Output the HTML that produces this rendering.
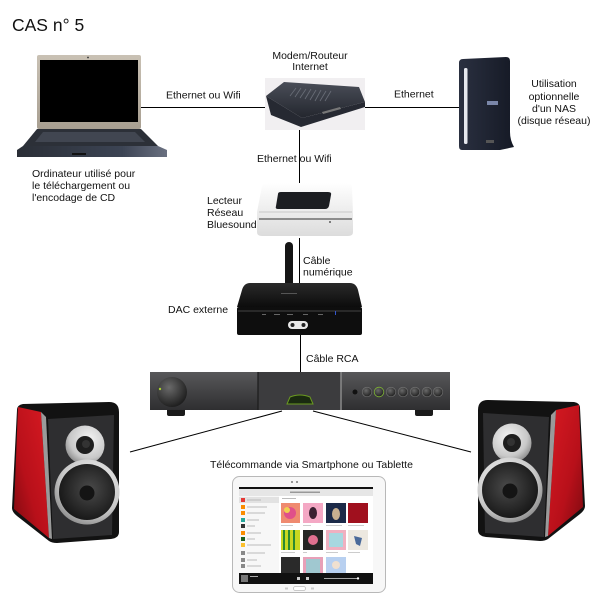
<!DOCTYPE html>
<html><head><meta charset="utf-8"><style>
html,body{margin:0;padding:0;background:#fff;}
svg{display:block;}
text{font-family:"Liberation Sans",Arial,sans-serif;fill:#111;}
.t{font-size:10.5px;}
</style></head><body>
<svg width="600" height="600" viewBox="0 0 600 600" xmlns="http://www.w3.org/2000/svg">
<defs>
<linearGradient id="lid" x1="0" y1="0" x2="0" y2="1"><stop offset="0" stop-color="#c9c1b4"/><stop offset="1" stop-color="#a89f91"/></linearGradient>
<linearGradient id="lapfront" x1="0" y1="0" x2="1" y2="0"><stop offset="0" stop-color="#2a2e36"/><stop offset="0.7" stop-color="#3c4454"/><stop offset="1" stop-color="#6a7080"/></linearGradient>
<linearGradient id="red" x1="0" y1="0" x2="1" y2="1"><stop offset="0" stop-color="#d81a22"/><stop offset="0.6" stop-color="#b8101a"/><stop offset="1" stop-color="#7a0a10"/></linearGradient>
<radialGradient id="silver" cx="0.4" cy="0.35" r="0.7"><stop offset="0" stop-color="#f4f4f4"/><stop offset="0.7" stop-color="#c8c8c8"/><stop offset="1" stop-color="#8a8a8a"/></radialGradient>
<radialGradient id="cone" cx="0.45" cy="0.45" r="0.6"><stop offset="0" stop-color="#4a4a4a"/><stop offset="1" stop-color="#151515"/></radialGradient>
<linearGradient id="amp" x1="0" y1="0" x2="0" y2="1"><stop offset="0" stop-color="#58585a"/><stop offset="1" stop-color="#2e2e30"/></linearGradient>
<radialGradient id="knob" cx="0.4" cy="0.35" r="0.7"><stop offset="0" stop-color="#6a6a6a"/><stop offset="1" stop-color="#1a1a1a"/></radialGradient>
<linearGradient id="nas" x1="0" y1="0" x2="1" y2="0"><stop offset="0" stop-color="#2a3040"/><stop offset="1" stop-color="#151925"/></linearGradient>
<linearGradient id="router" x1="0" y1="0" x2="0" y2="1"><stop offset="0" stop-color="#4a4e58"/><stop offset="1" stop-color="#23262e"/></linearGradient>
<linearGradient id="blu" x1="0" y1="0" x2="0" y2="1"><stop offset="0" stop-color="#ffffff"/><stop offset="1" stop-color="#dcdcdc"/></linearGradient>
<linearGradient id="dac" x1="0" y1="0" x2="0" y2="1"><stop offset="0" stop-color="#2a2a2a"/><stop offset="1" stop-color="#0c0c0c"/></linearGradient>
<g id="spk">
  <path d="M478,410 Q478,400 488,400 L574,402 Q580,403 580,408 L585,506 Q585,510 580,514 L548,539 Q545,541 540,541 L486,537 Q478,536 478,530 Z" fill="#121212"/>
  <path d="M483,413 L549,417 L544,537 L485,533 Z" fill="#2e2e30"/>
  <path d="M556,410 L579,405 L583,507 L548,536 Z" fill="url(#red)"/>
  <path d="M551,415 L556,410 L548,536 L545,537 Z" fill="#9a9a9a"/>
  <circle cx="512" cy="443" r="19.5" fill="url(#silver)"/>
  <circle cx="512" cy="443" r="9" fill="#1e1e1e"/>
  <circle cx="511" cy="442" r="4" fill="#333"/>
  <circle cx="510" cy="490" r="32.5" fill="url(#silver)"/>
  <circle cx="510" cy="490" r="28" fill="url(#cone)"/>
  <circle cx="510" cy="491" r="7.5" fill="#141414"/>
</g>
</defs>

<!-- Title -->
<text x="12" y="31" style="font-size:17.5px">CAS n° 5</text>

<!-- Connectors -->
<g stroke="#000" stroke-width="1" fill="none">
  <line x1="139" y1="107.5" x2="266" y2="107.5"/>
  <line x1="352" y1="107.5" x2="459" y2="107.5"/>
  <line x1="299.5" y1="125" x2="299.5" y2="184"/>
  <line x1="299.5" y1="238" x2="299.5" y2="283"/>
  <line x1="300.5" y1="335" x2="300.5" y2="372"/>
  <line x1="282" y1="411" x2="130" y2="452"/>
  <line x1="313" y1="411" x2="471" y2="452"/>
</g>

<!-- Laptop -->
<rect x="37" y="55" width="104" height="74" rx="2" fill="url(#lid)"/>
<rect x="40" y="60" width="98" height="62" fill="#000"/>
<circle cx="88" cy="57.5" r="0.9" fill="#333"/>
<path d="M37,129 L141,129 L158,146 L23,146 Z" fill="#2c3038"/>
<path d="M43,132 L135,132 L145,142 L35,142 Z" fill="#414651"/>
<path d="M23,146 L158,146 L167,150 L167,157 L17,157 L17,150 Z" fill="url(#lapfront)"/>
<rect x="72" y="153" width="14" height="2" fill="#111"/>

<!-- Router -->
<rect x="265" y="78" width="100" height="52" fill="#f1eff1"/>
<path d="M266,96 L284,82 L359,87 L365,102 L302,118 Z" fill="url(#router)"/>
<path d="M266,96 L302,118 L365,102 L365,107 L301,127 L271,115 Z" fill="#262932"/>
<g stroke="#6a6e78" stroke-width="0.8">
  <line x1="290" y1="96" x2="296" y2="88"/><line x1="295" y1="97" x2="301" y2="88"/><line x1="300" y1="98" x2="306" y2="89"/>
  <line x1="305" y1="99" x2="311" y2="89"/><line x1="310" y1="100" x2="316" y2="90"/><line x1="315" y1="101" x2="321" y2="90"/>
  <line x1="320" y1="101" x2="326" y2="91"/><line x1="325" y1="101" x2="331" y2="91"/>
</g>
<path d="M322,112 L340,107 L341,109 L323,114 Z" fill="#777"/>

<!-- NAS -->
<path d="M459,63 Q459,59 463,59 L506,57 Q510,57 510,61 L510,132 Q510,140 514,147 L500,150 L462,150 Q459,150 459,146 Z" fill="url(#nas)"/>
<rect x="464" y="68" width="3.5" height="76" rx="1.5" fill="#e6e8ee"/>
<rect x="487" y="101" width="11" height="4" fill="#7a86a8"/>
<rect x="486" y="140" width="8" height="3" fill="#555"/>

<!-- Bluesound -->
<path d="M262,186 Q262,183 268,183 L345,183 Q352,183 352,188 L353,213 L353,232 Q353,236 348,236 L262,236 Q257,236 257,232 L257,212 Z" fill="url(#blu)"/>
<path d="M259,212 L352,212" stroke="#c8c8c8" stroke-width="1"/>
<path d="M259,219 L352,219" stroke="#555" stroke-width="1.2"/>
<path d="M278,194 Q278,192 281,192 L328,192 Q332,192 331,195 L329,206 Q328,209 325,209 L278,209 Q275,209 276,206 Z" fill="#1c1e22"/>
<circle cx="330" cy="222" r="0.9" fill="#333"/>

<!-- DAC -->
<rect x="285" y="242" width="8" height="48" rx="4" fill="#151515"/>
<path d="M250,283 L350,283 Q356,283 358,290 L362,307 L237,307 L242,290 Q244,283 250,283 Z" fill="url(#dac)"/>
<rect x="237" y="307" width="125" height="28" rx="2" fill="#0e0e0e"/>
<line x1="238" y1="311" x2="361" y2="311" stroke="#444" stroke-width="1"/>
<g fill="#666"><rect x="262" y="314" width="4" height="1"/><rect x="274" y="314" width="6" height="1"/><rect x="287" y="314" width="6" height="1"/><rect x="303" y="314" width="5" height="1"/><rect x="318" y="314" width="5" height="1"/></g>
<rect x="335" y="311" width="1" height="4" fill="#3355cc"/>
<rect x="288" y="321" width="20" height="8" rx="4" fill="#e8e8e8"/>
<circle cx="292.5" cy="325" r="2" fill="#222"/><circle cx="303.5" cy="325" r="2" fill="#222"/>
<rect x="281" y="293" width="16" height="1" fill="#555"/>

<!-- Amplifier -->
<rect x="167" y="408" width="18" height="8" rx="2" fill="#1a1a1a"/>
<rect x="415" y="408" width="18" height="8" rx="2" fill="#1a1a1a"/>
<rect x="150" y="372" width="300" height="38" fill="url(#amp)"/>
<rect x="258" y="372" width="83" height="38" fill="#3c3c3e"/>
<line x1="258" y1="372" x2="258" y2="410" stroke="#1c1c1c" stroke-width="1.2"/>
<line x1="341" y1="372" x2="341" y2="410" stroke="#8a8a8a" stroke-width="1.5"/>
<circle cx="172" cy="392" r="15" fill="url(#knob)"/>
<circle cx="160" cy="389" r="1.2" fill="#a8d030"/>
<path d="M287,404 L313,404 L310,397 Q300,393 290,397 Z" fill="#1a2a10" stroke="#6a9a20" stroke-width="1"/>
<circle cx="355" cy="392" r="2.5" fill="#111"/>
<g fill="url(#knob)" stroke="#777" stroke-width="0.6">
  <circle cx="367" cy="392" r="4.8"/><circle cx="379" cy="392" r="4.8"/><circle cx="391" cy="392" r="4.8"/>
  <circle cx="403" cy="392" r="4.8"/><circle cx="415" cy="392" r="4.8"/><circle cx="427" cy="392" r="4.8"/><circle cx="438" cy="392" r="4.8"/>
</g>
<circle cx="379" cy="392" r="4.8" fill="none" stroke="#7ab030" stroke-width="0.8"/>

<!-- Speakers -->
<use href="#spk"/>
<use href="#spk" transform="translate(597,2) scale(-1,1)"/>

<!-- Tablet -->
<rect x="232.5" y="476.5" width="153" height="116" rx="7" fill="#f7f7f7" stroke="#b8b8b8" stroke-width="1"/>
<circle cx="292" cy="482" r="0.9" fill="#555"/><circle cx="297" cy="482" r="0.9" fill="#555"/>
<rect x="239" y="487" width="134" height="97" fill="#fff"/>
<rect x="239" y="487" width="134" height="2" fill="#111"/>
<rect x="239" y="489" width="134" height="7" fill="#e6e6e6"/>
<rect x="290" y="491.5" width="30" height="1.5" fill="#999"/>
<rect x="239" y="496" width="40" height="77" fill="#f7f7f7"/>
<rect x="239" y="497" width="40" height="6" fill="#e2e2e2"/>
<g>
  <rect x="241" y="498" width="4" height="4" fill="#e53935"/>
  <rect x="241" y="505" width="4" height="4" fill="#fb8c00"/>
  <rect x="241" y="511" width="4" height="4" fill="#fb8c00"/>
  <rect x="241" y="518" width="4" height="4" fill="#26a69a"/>
  <rect x="241" y="524" width="4" height="4" fill="#333"/>
  <rect x="241" y="531" width="4" height="4" fill="#fb8c00"/>
  <rect x="241" y="537" width="4" height="4" fill="#1b5e20"/>
  <rect x="241" y="543" width="4" height="4" fill="#fbc02d"/>
  <rect x="241" y="551" width="4" height="4" fill="#888"/>
  <rect x="241" y="558" width="4" height="4" fill="#888"/>
  <rect x="241" y="564" width="4" height="4" fill="#888"/>
</g>
<g fill="#bbb">
  <rect x="247" y="499.5" width="14" height="1"/><rect x="247" y="506.5" width="20" height="1"/><rect x="247" y="512.5" width="18" height="1"/>
  <rect x="247" y="519.5" width="12" height="1"/><rect x="247" y="525.5" width="8" height="1"/><rect x="247" y="532.5" width="14" height="1"/>
  <rect x="247" y="538.5" width="8" height="1"/><rect x="247" y="544.5" width="24" height="1"/><rect x="247" y="552.5" width="18" height="1"/>
  <rect x="247" y="559.5" width="10" height="1"/><rect x="247" y="565.5" width="14" height="1"/>
  <rect x="282" y="498" width="14" height="1"/>
</g>
<rect x="281" y="503" width="19" height="20" fill="#ef8a70"/>
<circle cx="290" cy="513" r="6" fill="#e0508a"/><circle cx="287" cy="510" r="3" fill="#f0d050"/>
<rect x="303" y="503" width="20" height="20" fill="#f4a8c4"/>
<ellipse cx="313" cy="513" rx="4" ry="6" fill="#3a2030"/>
<rect x="326" y="503" width="20" height="20" fill="#1c2a48"/>
<ellipse cx="336" cy="514" rx="4" ry="6" fill="#c8b090"/>
<rect x="348" y="503" width="20" height="20" fill="#a0101e"/>
<rect x="281" y="530" width="19" height="20" fill="#c8d820"/>
<g fill="#2a8a30"><rect x="283" y="530" width="2" height="20"/><rect x="288" y="530" width="2" height="20"/><rect x="293" y="530" width="2" height="20"/></g>
<rect x="303" y="530" width="20" height="20" fill="#262626"/>
<circle cx="313" cy="540" r="5" fill="#e07090"/>
<rect x="326" y="530" width="20" height="20" fill="#f0b0c0"/>
<rect x="329" y="533" width="14" height="14" fill="#a8d8e0"/>
<rect x="348" y="530" width="20" height="20" fill="#ece8e0"/>
<path d="M354,536 L362,538 L360,546 L356,544 Z" fill="#4a6a9a"/>
<rect x="281" y="557" width="19" height="16" fill="#2a2a2a"/>
<rect x="303" y="557" width="20" height="16" fill="#e8a0b8"/>
<rect x="306" y="559" width="14" height="14" fill="#a0c8d0"/>
<rect x="326" y="557" width="20" height="16" fill="#b8d0f0"/>
<circle cx="336" cy="565" r="4" fill="#f0e0d0"/>
<g fill="#ccc">
  <rect x="281" y="525" width="12" height="1"/><rect x="303" y="525" width="8" height="1"/><rect x="326" y="525" width="16" height="1"/><rect x="348" y="525" width="16" height="1"/>
  <rect x="281" y="552" width="14" height="1"/><rect x="303" y="552" width="4" height="1"/><rect x="326" y="552" width="12" height="1"/><rect x="348" y="552" width="12" height="1"/>
</g>
<rect x="239" y="573" width="134" height="11" fill="#111"/>
<rect x="241" y="575" width="7" height="7" fill="#777"/>
<rect x="250" y="576" width="8" height="1" fill="#aaa"/>
<rect x="324" y="578" width="34" height="0.8" fill="#ccc"/>
<circle cx="358" cy="578.4" r="1.2" fill="#fff"/>
<rect x="297" y="577" width="3" height="3" fill="#ccc"/><rect x="306" y="577" width="3" height="3" fill="#ccc"/>
<rect x="293.5" y="586.5" width="12" height="4" rx="2" fill="#fff" stroke="#bbb" stroke-width="0.8"/>
<rect x="285" y="587.5" width="3" height="2" fill="#ccc"/><rect x="311" y="587.5" width="3" height="2" fill="#ccc"/>

<!-- Labels -->
<g class="t">
  <text class="t" x="310" y="59" text-anchor="middle">Modem/Routeur</text>
  <text class="t" x="310" y="70" text-anchor="middle">Internet</text>
  <text class="t" x="166" y="98.5">Ethernet ou Wifi</text>
  <text class="t" x="394" y="97.5">Ethernet</text>
  <text class="t" x="554" y="87" text-anchor="middle">Utilisation</text>
  <text class="t" x="554" y="100" text-anchor="middle">optionnelle</text>
  <text class="t" x="554" y="112" text-anchor="middle">d'un NAS</text>
  <text class="t" x="554" y="124" text-anchor="middle">(disque réseau)</text>
  <text class="t" x="32" y="177">Ordinateur utilisé pour</text>
  <text class="t" x="32" y="189">le téléchargement ou</text>
  <text class="t" x="32" y="201">l'encodage de CD</text>
  <text class="t" x="257" y="162">Ethernet ou Wifi</text>
  <text class="t" x="207" y="204">Lecteur</text>
  <text class="t" x="207" y="216">Réseau</text>
  <text class="t" x="207" y="228">Bluesound</text>
  <text class="t" x="303" y="264">Câble</text>
  <text class="t" x="303" y="275.5">numérique</text>
  <text class="t" x="168" y="313">DAC externe</text>
  <text class="t" x="306" y="362">Câble RCA</text>
  <text class="t" x="210" y="468">Télécommande via Smartphone ou Tablette</text>
</g>
</svg>
</body></html>
